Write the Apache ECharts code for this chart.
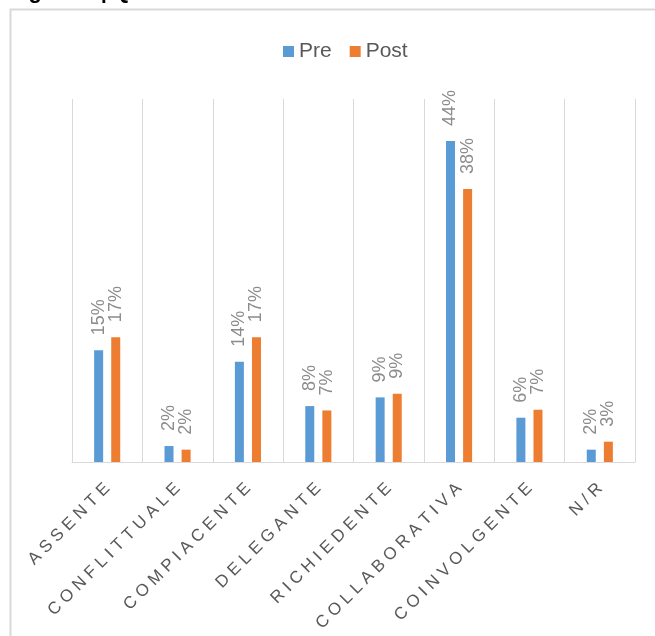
<!DOCTYPE html>
<html>
<head>
<meta charset="utf-8">
<script src="https://cdn.jsdelivr.net/npm/echarts@6/dist/echarts.min.js"></script>
<style>
html,body{margin:0;padding:0;background:#fff;}
#chart{width:655px;height:636px;}
</style>
</head>
<body>
<div id="chart"></div>
<script>
const titleText = 'Figura 9 | Quanta';
const categories = ['ASSENTE','CONFLITTUALE','COMPIACENTE','DELEGANTE','RICHIEDENTE','COLLABORATIVA','COINVOLGENTE','N/R'];
const seriesNames = ['Pre','Post'];
const preValues = [15.4, 2.2, 13.8, 7.7, 8.9, 44.2, 6.1, 1.7];
const postValues = [17.2, 1.7, 17.2, 7.1, 9.4, 37.6, 7.2, 2.8];

const chart = echarts.init(document.getElementById('chart'), null, {renderer:'canvas'});
const FONT = 'Liberation Sans';

function barLabel() {
  return {
    show: true,
    position: 'top',
    rotate: 90,
    align: 'left',
    verticalAlign: 'middle',
    distance: 15,
    color: '#8c8c8c',
    fontSize: 18,
    fontFamily: FONT,
    formatter: p => Math.round(p.value) + '%'
  };
}

chart.setOption({
  animation: false,
  backgroundColor: '#ffffff',
  title: {
    text: titleText,
    left: 4,
    top: -24,
    textStyle: {fontSize: 22, fontWeight: 'bold', color: '#000000', fontFamily: FONT}
  },
  graphic: [{
    type: 'rect',
    left: 8, top: 7,
    shape: {width: 660, height: 640},
    style: {fill: 'none', stroke: '#d9d9d9', lineWidth: 2},
    silent: true
  }],
  legend: {
    data: seriesNames,
    left: 278,
    top: 36,
    icon: 'rect',
    itemWidth: 11,
    itemHeight: 11,
    itemGap: 18,
    textStyle: {fontSize: 21, color: '#595959', fontFamily: FONT}
  },
  grid: {left: 72, right: 20, top: 99, bottom: 174, containLabel: false},
  xAxis: {
    type: 'category',
    data: categories,
    axisLine: {lineStyle: {color: '#d9d9d9', width: 1}},
    axisTick: {show: false},
    splitLine: {show: true, lineStyle: {color: '#d9d9d9', width: 1}},
    axisLabel: {
      rotate: 45,
      margin: 24,
      interval: 0,
      color: '#595959',
      fontSize: 17,
      fontFamily: FONT,
      formatter: v => v.split('').join(' ')
    }
  },
  yAxis: {
    type: 'value',
    min: 0,
    max: 50,
    show: false,
    splitLine: {show: false}
  },
  series: [
    {name: seriesNames[0], type: 'bar', data: preValues, barWidth: 9, barGap: '90%',
     itemStyle: {color: '#5b9bd5'}, label: barLabel()},
    {name: seriesNames[1], type: 'bar', data: postValues, barWidth: 9, barGap: '90%',
     itemStyle: {color: '#ed7d31'}, label: barLabel()}
  ]
});
</script>
</body>
</html>
